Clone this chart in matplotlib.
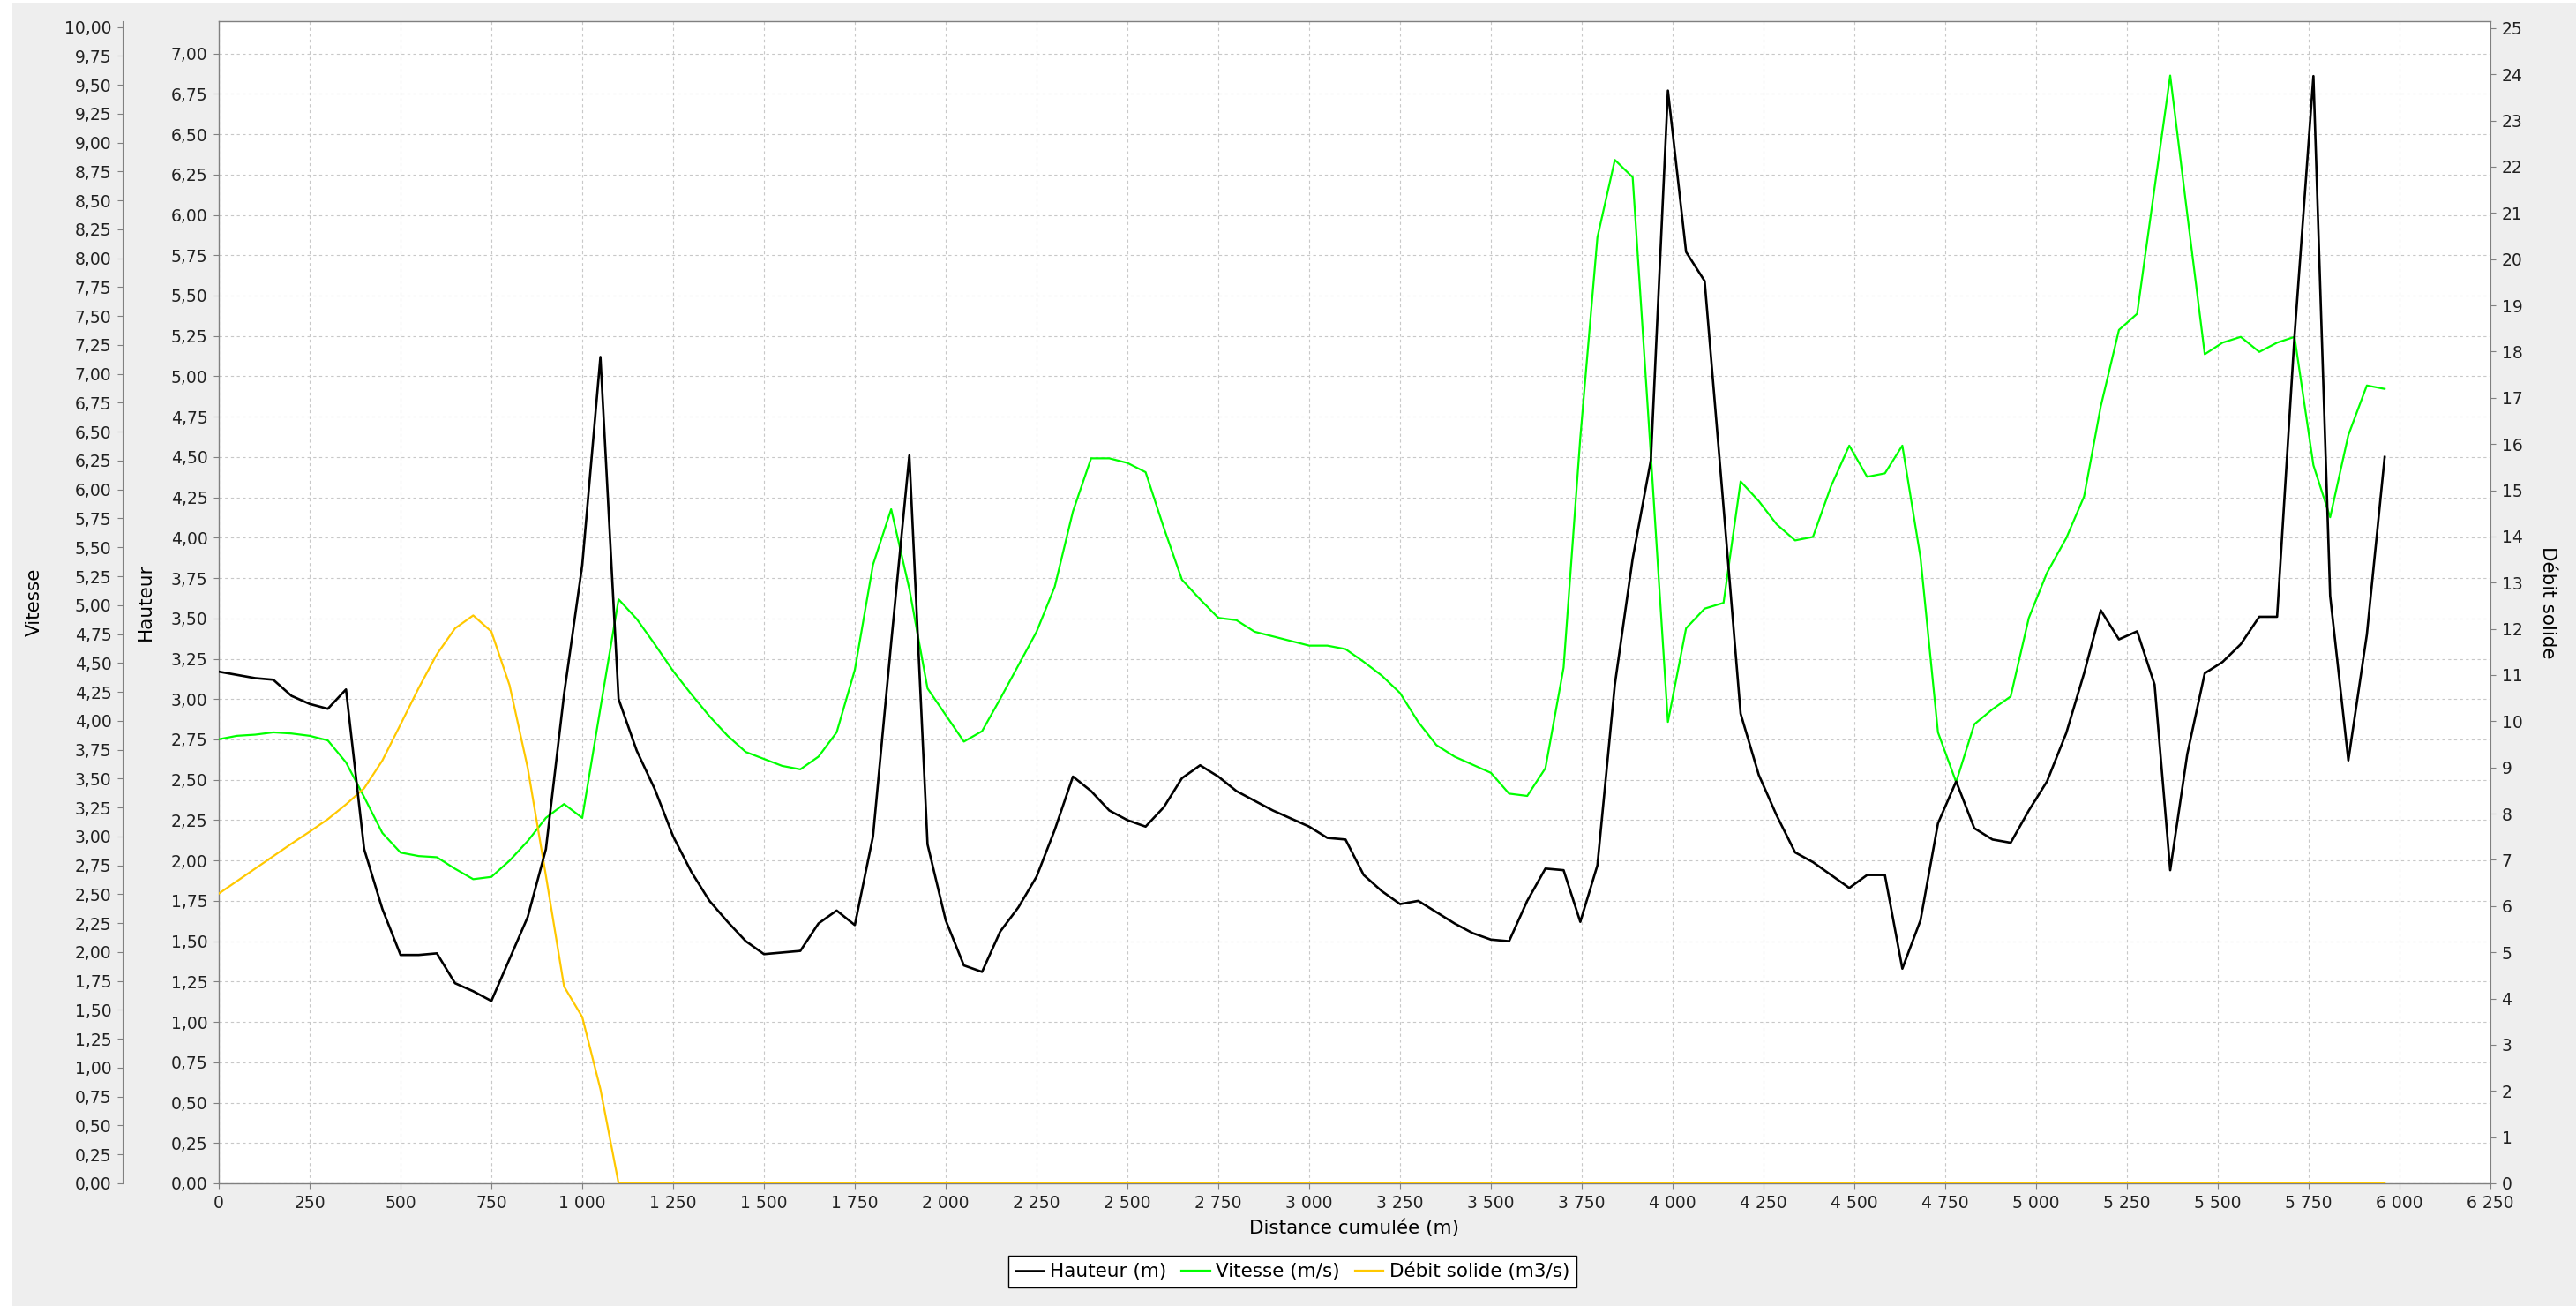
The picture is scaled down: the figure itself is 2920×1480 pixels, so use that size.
import matplotlib
matplotlib.use("Agg")
import matplotlib.pyplot as plt
from matplotlib.patches import Rectangle
from matplotlib.ticker import FuncFormatter, MultipleLocator

# distance cumulée (m) of each cross-section
distance = [
    0, 50, 100, 150, 200, 250, 300, 350, 400, 450, 500, 550, 600, 650, 700,
    750, 800, 850, 900, 950, 1000, 1050, 1100, 1150, 1200, 1250, 1300, 1350,
    1400, 1450, 1500, 1550, 1600, 1650, 1700, 1750, 1800, 1850, 1900, 1950,
    2000, 2050, 2100, 2150, 2200, 2250, 2300, 2350, 2400, 2450, 2500, 2550,
    2600, 2650, 2700, 2750, 2800, 2850, 2900, 2950, 3000, 3050, 3100, 3150,
    3200, 3250, 3300, 3350, 3400, 3450, 3500, 3550, 3600, 3650, 3700,
    3746, 3793, 3841, 3890, 3940, 3987, 4037, 4088, 4140, 4187, 4237, 4286,
    4337, 4386, 4436, 4486, 4535, 4584, 4632, 4682, 4730, 4780, 4830, 4880,
    4930, 4980, 5030, 5083, 5132, 5178, 5228, 5278, 5326, 5369, 5416, 5464,
    5513, 5563, 5614, 5663, 5711, 5763, 5809, 5859, 5910, 5959,
]

hauteur = [
    3.17, 3.15, 3.13, 3.12, 3.02, 2.97, 2.94, 3.06, 2.07, 1.70, 1.415, 1.415,
    1.425, 1.24, 1.19, 1.13, 1.39, 1.65, 2.07, 3.03, 3.83, 5.12, 3.00, 2.68,
    2.44, 2.15, 1.93, 1.75, 1.62, 1.50, 1.42, 1.43, 1.44, 1.61, 1.69, 1.60,
    2.15, 3.35, 4.51, 2.10, 1.63, 1.35, 1.31, 1.56, 1.71, 1.90, 2.19, 2.52,
    2.43, 2.31, 2.25, 2.21, 2.33, 2.51, 2.59, 2.52, 2.43, 2.37, 2.31, 2.26,
    2.21, 2.14, 2.13, 1.91, 1.81, 1.73, 1.75, 1.68, 1.61, 1.55, 1.51, 1.50,
    1.75, 1.95, 1.94,
    1.62, 1.97, 3.09, 3.87, 4.48, 6.77, 5.77, 5.59, 4.19, 2.91, 2.53, 2.28,
    2.05, 1.99, 1.91, 1.83, 1.91, 1.91, 1.33, 1.63, 2.23, 2.49, 2.20, 2.13,
    2.11, 2.31, 2.49, 2.79, 3.16, 3.55, 3.37, 3.42, 3.09, 1.94, 2.66, 3.16,
    3.23, 3.34, 3.51, 3.51, 5.25, 6.86, 3.64, 2.62, 3.40, 4.50,
]

vitesse = [
    3.84, 3.87, 3.88, 3.90, 3.89, 3.87, 3.83, 3.64, 3.34, 3.03, 2.86, 2.83,
    2.82, 2.72, 2.63, 2.65, 2.79, 2.96, 3.16, 3.28, 3.16, 4.11, 5.05, 4.88,
    4.66, 4.43, 4.23, 4.04, 3.87, 3.73, 3.67, 3.61, 3.58, 3.69, 3.90, 4.44,
    5.35, 5.83, 5.14, 4.28, 4.05, 3.82, 3.91, 4.19, 4.48, 4.77, 5.16, 5.81,
    6.27, 6.27, 6.23, 6.15, 5.67, 5.22, 5.05, 4.89, 4.87, 4.77, 4.73, 4.69,
    4.65, 4.65, 4.62, 4.51, 4.39, 4.24, 3.99, 3.79, 3.69, 3.62, 3.55, 3.37,
    3.35, 3.59, 4.46,
    6.45, 8.18, 8.85, 8.70, 6.30, 3.99, 4.80, 4.97, 5.02, 6.07, 5.90, 5.70,
    5.56, 5.59, 6.03, 6.38, 6.11, 6.14, 6.38, 5.41, 3.90, 3.47, 3.97, 4.10,
    4.21, 4.89, 5.28, 5.58, 5.94, 6.72, 7.38, 7.52, 8.61, 9.58, 8.38, 7.17,
    7.27, 7.32, 7.19, 7.27, 7.32, 6.21, 5.76, 6.47, 6.90, 6.87,
]

debit = [
    6.27, 6.54, 6.81, 7.08, 7.35, 7.61, 7.88, 8.20, 8.55, 9.15, 9.93, 10.72,
    11.45, 12.01, 12.29, 11.94, 10.78, 8.99, 6.66, 4.26, 3.60, 2.04,
    0, 0, 0, 0, 0, 0, 0, 0, 0, 0, 0, 0, 0, 0,
    0, 0, 0, 0, 0, 0, 0, 0, 0, 0, 0, 0, 0, 0,
    0, 0, 0, 0, 0, 0, 0, 0, 0, 0, 0, 0, 0, 0,
    0, 0, 0, 0, 0, 0, 0, 0, 0, 0, 0, 0, 0, 0,
    0, 0, 0, 0, 0, 0, 0, 0, 0, 0, 0, 0, 0, 0,
    0, 0, 0, 0, 0, 0, 0, 0, 0, 0, 0, 0, 0, 0,
    0, 0, 0, 0, 0, 0, 0, 0, 0, 0, 0, 0, 0, 0,
    0,
]

labels = ["Hauteur (m)", "Vitesse (m/s)", "Débit solide (m3/s)"]
colors = ["#000000", "#00FF00", "#FFC800"]

TICK_FS = 13.5
LABEL_FS = 15.5
GREY = "#808080"


def fr_dec(v, pos):
    return f"{v:.2f}".replace(".", ",")


def fr_int(v, pos):
    return f"{int(round(v)):,}".replace(",", " ")


def style_ticks(ax, axis):
    ax.tick_params(axis=axis, direction="out", length=4.5, width=0.8,
                   color=GREY, labelsize=TICK_FS, labelcolor="#222222", pad=4.5)


fig = plt.figure(figsize=(29.2, 14.8), dpi=100, facecolor="white")
# grey chart panel (thin white margin on the left and top, as in the screenshot)
fig.patches.append(Rectangle((14 / 2920, 0), 1 - 14 / 2920, 1 - 3 / 1480,
                             transform=fig.transFigure, facecolor="#EEEEEE",
                             edgecolor="none", zorder=-10))

ax_h = fig.add_axes([248 / 2920, 139 / 1480, 2575 / 2920, 1317 / 1480])
ax_h.set_facecolor("white")
ax_h.set_xlim(0, 6250)
ax_h.set_ylim(0, 7.2)
ax_h.xaxis.set_major_locator(MultipleLocator(250))
ax_h.yaxis.set_major_locator(MultipleLocator(0.25))
ax_h.xaxis.set_major_formatter(FuncFormatter(fr_int))
ax_h.yaxis.set_major_formatter(FuncFormatter(fr_dec))
ax_h.grid(True, color="#C8C8C8", linestyle=(0, (3, 3)), linewidth=0.8)
ax_h.set_axisbelow(True)
style_ticks(ax_h, "both")
ax_h.tick_params(axis="x", pad=5)
ax_h.spines["right"].set_visible(False)
for s in ("left", "top", "bottom"):
    ax_h.spines[s].set_color(GREY)
    ax_h.spines[s].set_linewidth(1.0)
ax_h.set_xlabel("Distance cumulée (m)", fontsize=LABEL_FS)
ax_h.xaxis.set_label_coords(0.5, -0.0387)
ax_h.xaxis.label.set_va("center")
ax_h.set_ylabel("Hauteur", fontsize=LABEL_FS)
ax_h.yaxis.set_label_coords(-0.0322, 0.5)
ax_h.yaxis.label.set_va("center")

# Vitesse axis, offset to the left
ax_v = ax_h.twinx()
ax_v.set_ylim(0, 10.05)
ax_v.spines["left"].set_position(("axes", -109 / 2575))
ax_v.spines["left"].set_visible(True)
ax_v.spines["left"].set_color(GREY)
for s in ("right", "top", "bottom"):
    ax_v.spines[s].set_visible(False)
ax_v.yaxis.tick_left()
ax_v.yaxis.set_label_position("left")
ax_v.yaxis.set_major_locator(MultipleLocator(0.25))
ax_v.yaxis.set_major_formatter(FuncFormatter(fr_dec))
style_ticks(ax_v, "y")
ax_v.set_ylabel("Vitesse", fontsize=LABEL_FS)
ax_v.yaxis.set_label_coords(-0.0812, 0.5)
ax_v.yaxis.label.set_va("center")

# Débit solide axis on the right
ax_d = ax_h.twinx()
ax_d.set_ylim(0, 25.15)
for s in ("left", "top", "bottom"):
    ax_d.spines[s].set_visible(False)
ax_d.spines["right"].set_color(GREY)
ax_d.yaxis.set_major_locator(MultipleLocator(1))
ax_d.yaxis.set_major_formatter(FuncFormatter(fr_int))
style_ticks(ax_d, "y")
ax_d.set_ylabel("Débit solide", fontsize=LABEL_FS, rotation=-90)
ax_d.yaxis.set_label_coords(1.0252, 0.5)
ax_d.yaxis.label.set_va("center")

# top layer for the height series, same scale as ax_h
ax_top = ax_h.twinx()
ax_top.set_ylim(ax_h.get_ylim())
ax_top.axis("off")

l_d, = ax_d.plot(distance, debit, color=colors[2], linewidth=1.6, label=labels[2])
l_v, = ax_v.plot(distance, vitesse, color=colors[1], linewidth=1.6, label=labels[1])
l_h, = ax_top.plot(distance, hauteur, color=colors[0], linewidth=1.9, label=labels[0])

leg = fig.legend([l_h, l_v, l_d], labels, loc="center",
                 bbox_to_anchor=(1465 / 2920, 39 / 1480), ncol=3,
                 frameon=True, fancybox=False, edgecolor="black",
                 facecolor="white", framealpha=1, fontsize=LABEL_FS,
                 handlelength=1.5, handletextpad=0.3, columnspacing=0.8,
                 borderpad=0.35)
leg.get_frame().set_linewidth(1.0)

fig.savefig("out.png", dpi=100, facecolor=fig.get_facecolor())
